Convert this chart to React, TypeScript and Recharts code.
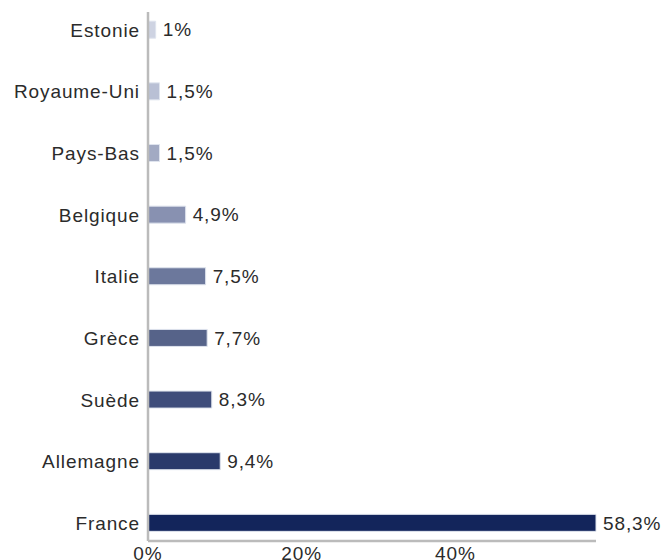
import React from 'react';
import { BarChart, Bar, XAxis, YAxis, Cell, LabelList } from 'recharts';

const countries = ['Estonie', 'Royaume-Uni', 'Pays-Bas', 'Belgique', 'Italie', 'Grèce', 'Suède', 'Allemagne', 'France'];
const shares = [1, 1.5, 1.5, 4.9, 7.5, 7.7, 8.3, 9.4, 58.3];
const barColors = ['#ced3e2', '#b9c0d5', '#a2aac3', '#8891b1', '#6c789c', '#566389', '#3f4d7b', '#2a3a6b', '#13255b'];
const xTicks = [0, 20, 40];

const data = countries.map((name, i) => ({ name, value: shares[i] }));

const font = { fontFamily: '"Liberation Sans", Arial, Helvetica, sans-serif', fontSize: 19, fill: '#2b2b2b', letterSpacing: 0.9 };

const fmt = (v: number) => `${String(v).replace('.', ',')}%`;

export default function App() {
  return (
    <div style={{ position: 'absolute', left: 0, top: 0, background: '#fff' }}>
      <BarChart
        width={663}
        height={560}
        data={data}
        layout="vertical"
        margin={{ top: 12, right: 67, left: 0, bottom: 0 }}
      >
        <XAxis
          type="number"
          domain={[0, 58.3]}
          ticks={xTicks}
          tickFormatter={(v) => `${v}%`}
          axisLine={{ stroke: '#bbbbbb', strokeWidth: 2.5 }}
          tickLine={false}
          tickMargin={0}
          height={19}
          tick={font}
        />
        <YAxis
          type="category"
          dataKey="name"
          width={148}
          padding={{ top: -12.8, bottom: -13 }}
          axisLine={{ stroke: '#bbbbbb', strokeWidth: 2.5 }}
          tickLine={false}
          tick={font}
          interval={0}
        />
        <Bar dataKey="value" barSize={17} stroke="#dfe4ee" strokeWidth={1} isAnimationActive={false}>
          {data.map((d, i) => (
            <Cell key={d.name} fill={barColors[i]} />
          ))}
          <LabelList dataKey="value" position="right" offset={7} formatter={fmt} style={font} />
        </Bar>
      </BarChart>
    </div>
  );
}
